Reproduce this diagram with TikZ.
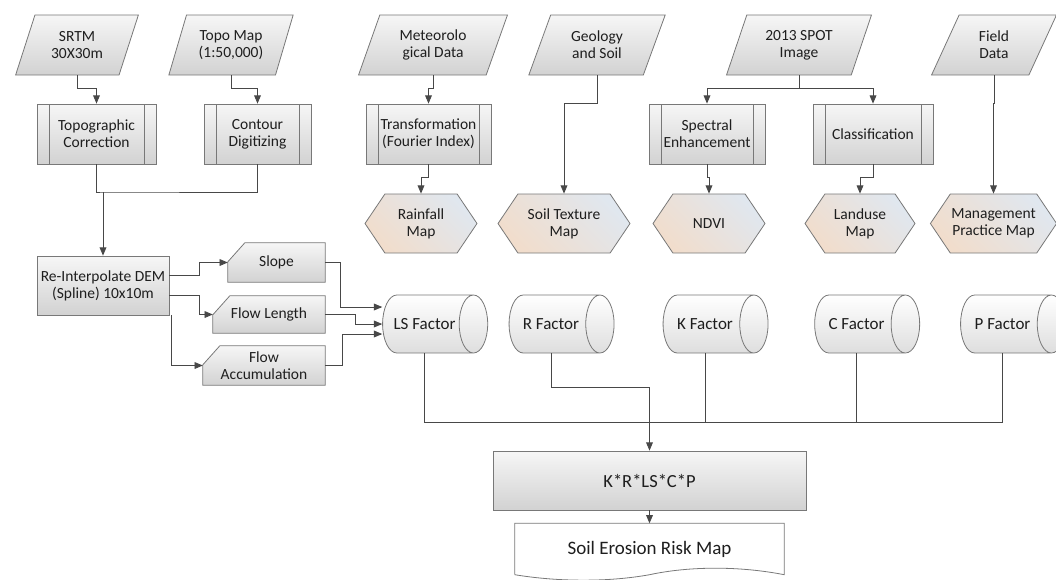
\documentclass[tikz,border=0pt]{standalone}
\usepackage{fontspec}
\setmainfont{Carlito}
\usepackage{xcolor}
\usetikzlibrary{shapes,arrows,positioning,calc,backgrounds}

\definecolor{edgegray}{RGB}{120,120,120}
\definecolor{linkgray}{RGB}{72,72,72}
\definecolor{inkgray}{RGB}{30,30,30}
\definecolor{boxtop}{RGB}{246,246,246}
\definecolor{boxbot}{RGB}{210,210,210}
\definecolor{facbot}{RGB}{222,222,222}
\definecolor{hexblue}{RGB}{224,231,239}
\definecolor{hexpeach}{RGB}{241,221,204}

\begin{document}
\begin{tikzpicture}[
  x=1pt, y=-1pt,
  font=\fontsize{15.5}{17}\selectfont,
  data/.style={trapezium, trapezium left angle=67, trapezium right angle=113, trapezium stretches=true, draw=edgegray, line width=0.8pt, top color=boxtop, bottom color=boxbot, minimum height=60pt, align=center, text=inkgray, inner sep=1pt},
  proc/.style={rectangle, draw=edgegray, line width=0.8pt, top color=boxtop, bottom color=boxbot, minimum height=60pt, align=center, text=inkgray, inner sep=1pt,
    path picture={
      \draw[edgegray, line width=0.8pt] ([xshift=12pt]path picture bounding box.north west) -- ([xshift=12pt]path picture bounding box.south west);
      \draw[edgegray, line width=0.8pt] ([xshift=-12pt]path picture bounding box.north east) -- ([xshift=-12pt]path picture bounding box.south east);}},
  mapout/.style={signal, signal to=west and east, signal pointer angle=112, draw=edgegray, line width=0.8pt, top color=hexblue, bottom color=hexpeach, shading angle=-45, minimum height=59pt, align=center, text=inkgray, inner sep=1pt},
  card/.style={rectangle, align=center, text=inkgray, inner sep=1pt},
  factor/.style={cylinder, shape border rotate=0, aspect=1.6, draw=edgegray, line width=0.8pt, top color=white, bottom color=facbot, minimum height=105pt, minimum width=58pt, text=inkgray, font=\fontsize{17}{19}\selectfont},
  plainbox/.style={rectangle, draw=edgegray, line width=0.8pt, top color=boxtop, bottom color=boxbot, align=center, text=inkgray},
  link/.style={draw=linkgray, line width=0.9pt},
  arrow/.style={->, >=triangle 45, draw=linkgray, line width=0.9pt}
]
  \useasboundingbox (0,0) rectangle (1056,579);

  % input data
  \node[data, minimum width=123pt] (srtm) at (77,45) {SRTM\\30X30m};
  \node[data, minimum width=125pt] (topo) at (231,45) {Topo Map\\(1:50,000)};
  \node[data, minimum width=150pt] (met) at (433,45) {Meteorolo\\gical Data};
  \node[data, minimum width=137pt] (geo) at (597,45) {Geology\\and Soil};
  \node[data, minimum width=146pt] (spot) at (799,45) {2013 SPOT\\Image};
  \node[data, minimum width=125pt] (field) at (994,45) {Field\\Data};

  % processing
  \node[proc, minimum width=119pt] (topocorr) at (96.5,134) {Topographic\\Correction};
  \node[proc, minimum width=107pt] (contour) at (257.5,134) {Contour\\Digitizing};
  \node[proc, minimum width=125pt] (transf) at (428.5,134) {Transformation\\(Fourier Index)};
  \node[proc, minimum width=116pt] (spectral) at (707,134) {Spectral\\Enhancement};
  \node[proc, minimum width=120pt] (classif) at (873,134) {Classification};

  % output maps
  \node[mapout, minimum width=112pt] (rainfall) at (421,223.5) {Rainfall\\Map};
  \node[mapout, minimum width=132pt] (soiltex) at (564,223.5) {Soil Texture\\Map};
  \node[mapout, minimum width=112pt] (ndvi) at (709,223.5) {NDVI};
  \node[mapout, minimum width=110pt] (landuse) at (860,223.5) {Landuse\\Map};
  \node[mapout, minimum width=125pt] (mgmt) at (993.5,223.5) {Management\\Practice Map};

  % dem branch
  \node[plainbox, minimum width=132pt, minimum height=59pt] (reinterp) at (103,285.5) {Re-Interpolate DEM\\(Spline) 10x10m};
  \node[card, minimum width=97pt, minimum height=39pt] (slope) at (276.5,262.5) {Slope};
  \node[card, minimum width=112pt, minimum height=37pt] (flowlen) at (269,314.5) {Flow Length};
  \node[card, minimum width=122pt, minimum height=39pt] (flowacc) at (264,365.5) {Flow\\Accumulation};
  \begin{scope}[on background layer]
    \foreach \c in {slope,flowlen,flowacc}
      \draw[edgegray, line width=0.8pt, top color=boxtop, bottom color=boxbot]
        ([yshift=-19pt]\c.north west) -- ([xshift=17pt]\c.north west) -- (\c.north east)
        -- (\c.south east) -- (\c.south west) -- cycle;
  \end{scope}

  % factors
  \node[factor] (ls) at (424.5,324) {LS Factor};
  \node[factor] (rf) at (551,324) {R Factor};
  \node[factor] (kf) at (705,324) {K Factor};
  \node[factor] (cf) at (856.5,324) {C Factor};
  \node[factor] (pf) at (1002.5,324) {P Factor};

  \node[plainbox, minimum width=313pt, minimum height=59pt, font=\fontsize{18.5}{21}\selectfont] (formula) at (649.5,480.5) {K*R*LS*C*P};
  \node[rectangle, minimum width=269pt, minimum height=51pt, inner sep=0pt, text=inkgray, font=\fontsize{19}{21}\selectfont] (soilmap) at (649.5,549) {Soil Erosion Risk Map};
  \draw[edgegray, line width=0.8pt] (soilmap.south west) -- (soilmap.north west) -- (soilmap.north east) -- (soilmap.south east)
    .. controls (740,566) and (690,566) .. (soilmap.south)
    .. controls (609,582) and (559,582) .. (soilmap.south west);

  \coordinate (demjoin) at (103,192);
  \coordinate (bus) at (0,422);

  % connectors
  \draw[arrow] (srtm.center |- srtm.south) -- ++(0,13) -| (topocorr.north);
  \draw[arrow] (topo.center |- topo.south) -- ++(0,13) -| (contour.north);
  \draw[link] (topocorr.south) |- (demjoin) -| (contour.south);
  \draw[arrow] (demjoin) -- (reinterp.north);
  \draw[arrow] (met.center |- met.south) -- ++(0,13) -| (transf.north);
  \draw[arrow] (transf.south) -- ++(0,13) -| (rainfall.north);
  \draw[arrow] (geo.center |- geo.south) -- ++(0,28) -| (soiltex.north);
  \draw[link] (spot.center |- spot.south) -- ++(0,13) coordinate (spotjoin);
  \draw[arrow] (spotjoin) -| (spectral.north);
  \draw[arrow] (spotjoin) -| (classif.north);
  \draw[arrow] (spectral.south) -- ++(0,13) -| (ndvi.north);
  \draw[arrow] (classif.south) -- ++(0,13) -| (landuse.north);
  \draw[arrow] (field.center |- field.south) -- ++(0,28) -| (mgmt.north);

  \draw[arrow] ([yshift=10pt]reinterp.east) -- ++(30,0) |- (slope.west);
  \draw[arrow] ([yshift=-10pt]reinterp.east) -- ++(30,0) |- (flowlen.west);
  \draw[arrow] ([xshift=2pt]reinterp.south east) |- (flowacc.west);
  \draw[arrow] (slope.east) -- ++(15,0) |- ([yshift=17pt]ls.west);
  \draw[arrow] (flowlen.east) -- ++(30,0) |- (ls.west);
  \draw[arrow] (flowacc.east) -- ++(17,0) |- ([yshift=-10pt]ls.west);

  \draw[link] (ls.south) |- (bus -| pf.south) -- (pf.south);
  \draw[link] (kf.south) -- (kf.south |- bus);
  \draw[link] (cf.south) -- (cf.south |- bus);
  \draw[arrow] (rf.south) -- ++(0,34) -| (formula.north);
  \draw[arrow] (formula.south) -- (soilmap.north);
\end{tikzpicture}
\end{document}
